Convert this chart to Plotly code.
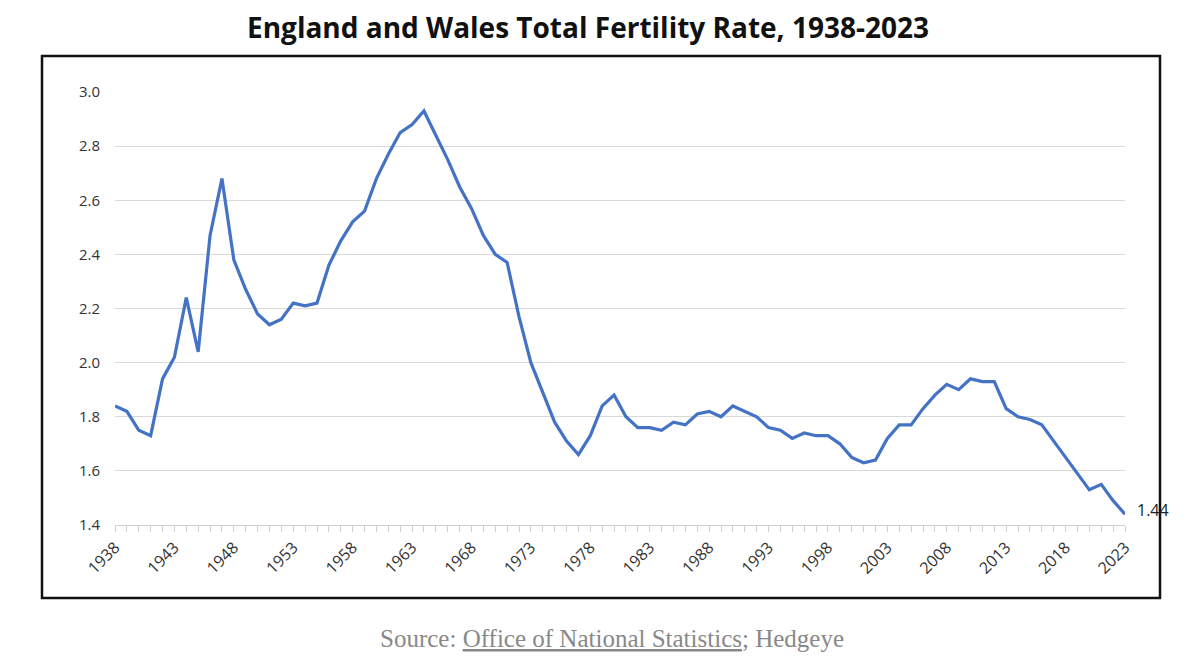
import plotly.graph_objects as go

years = list(range(1938, 2024))
tfr = [1.84, 1.82, 1.75, 1.73, 1.94, 2.02, 2.24, 2.04, 2.47, 2.68,
       2.38, 2.27, 2.18, 2.14, 2.16, 2.22, 2.21, 2.22, 2.36, 2.45,
       2.52, 2.56, 2.68, 2.77, 2.85, 2.88, 2.93, 2.84, 2.75, 2.65,
       2.57, 2.47, 2.40, 2.37, 2.17, 2.00, 1.89, 1.78, 1.71, 1.66,
       1.73, 1.84, 1.88, 1.80, 1.76, 1.76, 1.75, 1.78, 1.77, 1.81,
       1.82, 1.80, 1.84, 1.82, 1.80, 1.76, 1.75, 1.72, 1.74, 1.73,
       1.73, 1.70, 1.65, 1.63, 1.64, 1.72, 1.77, 1.77, 1.83, 1.88,
       1.92, 1.90, 1.94, 1.93, 1.93, 1.83, 1.80, 1.79, 1.77, 1.71,
       1.65, 1.59, 1.53, 1.55, 1.49, 1.44]
tick_years = list(range(1938, 2024, 5))

fig = go.Figure()
fig.add_trace(go.Scatter(x=years, y=tfr, mode="lines",
                         line=dict(color="#4472c4", width=3.2),
                         hoverinfo="x+y", showlegend=False))
fig.add_annotation(x=years[-1], y=tfr[-1], text=f"{tfr[-1]:.2f}", showarrow=False,
                   xanchor="left", xshift=10, yshift=4,
                   font=dict(size=16, color="#222", family="Open Sans"))

OFF = 8  # page body margin
W, H = 1200 - 2 * OFF, 669 - 2 * OFF
L, R, T, B = 115 - OFF, 1125 - OFF, 92 - OFF, 525 - OFF
fig.update_layout(
    width=W, height=H, paper_bgcolor="white", plot_bgcolor="white",
    margin=dict(l=L, r=W - R, t=T, b=H - B),
    font=dict(family="Open Sans", color="#333"),
)
fig.add_annotation(xref="paper", yref="paper", x=(588 - OFF - L) / (R - L),
                   y=(B - (27 - OFF)) / (B - T), yanchor="middle", showarrow=False,
                   text="<b>England and Wales Total Fertility Rate, 1938-2023</b>",
                   font=dict(size=28, family="Open Sans", color="#111"))
fig.update_xaxes(range=[1938, 2023], tickmode="array", tickvals=tick_years,
                 ticktext=[str(y) for y in tick_years], tickangle=-45,
                 showgrid=False, showline=True, linecolor="#d0d0d0", linewidth=1,
                 ticks="outside", ticklen=6, tickcolor="#d0d0d0",
                 minor=dict(dtick=1, ticks="outside", ticklen=6, tickcolor="#d0d0d0"),
                 tickfont=dict(size=16, color="#333"), zeroline=False)
fig.update_yaxes(range=[1.4, 3.0], dtick=0.2, tickformat=".1f",
                 showgrid=True, gridcolor="#d9d9d9", gridwidth=1,
                 tickfont=dict(size=15, color="#333"), zeroline=False,
                 ticks="", ticklabelstandoff=14)
fig.add_shape(type="rect", xref="paper", yref="paper",
              x0=(42 - OFF - L) / (R - L), x1=(1160 - OFF - L) / (R - L),
              y0=(B - (598 - OFF)) / (B - T), y1=(B - (56 - OFF)) / (B - T),
              line=dict(color="#111", width=2.5))
fig.add_annotation(xref="paper", yref="paper", x=(612 - OFF - L) / (R - L),
                   y=(B - (654 - OFF)) / (B - T), showarrow=False,
                   text="Source: <u>Office of National Statistics</u>; Hedgeye",
                   font=dict(size=25, family="Liberation Serif", color="#888"))
fig.write_html("out.html")
